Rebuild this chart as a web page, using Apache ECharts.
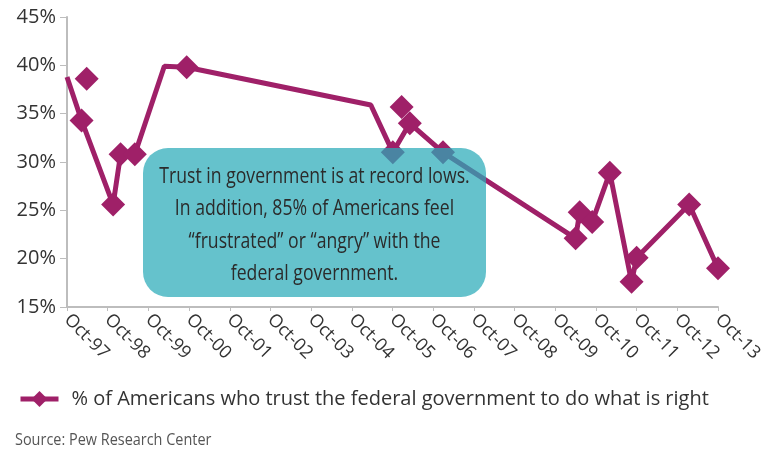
<!DOCTYPE html>
<html>
<head>
<meta charset="utf-8">
<script src="https://cdn.jsdelivr.net/npm/echarts@6/dist/echarts.min.js"></script>
<style>
  html, body { margin: 0; padding: 0; background: #fff; }
  #main { width: 777px; height: 449px; }
</style>
</head>
<body>
<div id="main"></div>
<script>
// x values are months counted from Oct-97
const monthsX = [0, 4.3, 13.6, 15.8, 20.0, 28.7, 35.3, 89.6, 96.1, 101.1, 110.9, 150.0, 151.2, 154.9, 160.1, 166.5, 168.0, 183.5, 192];
const trustPct = [38.8, 34.3, 25.6, 30.8, 30.8, 39.9, 39.8, 35.9, 31.0, 34.0, 31.0, 22.1, 24.8, 23.8, 28.9, 17.6, 20.1, 25.6, 19.0];
// points drawn without a diamond marker
const noMarker = [0, 5, 7];
// stray diamonds that are not on the line
const extraX = [5.8, 98.7];
const extraPct = [38.6, 35.7];

const yTicks = { min: 15, max: 45, step: 5 };
const legendName = "% of Americans who trust the federal government to do what is right";
const noteLines = [
  "Trust in government is at record lows.",
  "In addition, 85% of Americans feel",
  "\u201cfrustrated\u201d or \u201cangry\u201d with the",
  "federal government."
];

const plum = "#9f2068";

const lineData = monthsX.map((x, i) => {
  const item = { value: [x, trustPct[i]] };
  if (noMarker.includes(i)) item.symbol = "none";
  return item;
});
const extraData = extraX.map((x, i) => [x, extraPct[i]]);

let option = {
  animation: false,
  textStyle: { fontFamily: "Open Sans" },
  grid: { left: 67, right: 59, top: 17, bottom: 142 },
  xAxis: {
    type: "value",
    min: 0,
    max: 192,
    interval: 12,
    splitLine: { show: false },
    axisLine: { lineStyle: { color: "#bdbdbd", width: 2 } },
    axisTick: { show: true, length: 4, lineStyle: { color: "#bdbdbd", width: 1 } },
    axisLabel: {
      rotate: -45,
      margin: 10,
      color: "#333",
      fontSize: 18,
      formatter: function (v) {
        const yy = (97 + Math.round(v / 12)) % 100;
        return "Oct-" + String(yy).padStart(2, "0");
      },
    },
  },
  yAxis: {
    type: "value",
    min: yTicks.min,
    max: yTicks.max,
    interval: yTicks.step,
    splitLine: { show: false },
    axisLine: { show: true, lineStyle: { color: "#bdbdbd", width: 2 } },
    axisTick: { show: true, length: 7, lineStyle: { color: "#bdbdbd", width: 1 } },
    axisLabel: { color: "#333", fontSize: 20, margin: 11, formatter: "{value}%" },
  },
  legend: {
    data: [legendName],
    left: 13,
    top: 384,
    itemWidth: 38,
    itemHeight: 20,
    itemGap: 10,
    lineStyle: { width: 5 },
    textStyle: { color: "#333", fontSize: 20, fontFamily: "Open Sans", padding: [0, 0, 0, 8] },
  },
  series: [
    {
      name: legendName,
      type: "line",
      data: lineData,
      symbol: "diamond",
      symbolSize: 24,
      showAllSymbol: true,
      color: plum,
      lineStyle: { color: plum, width: 5 },
      itemStyle: { color: plum },
      z: 3,
    },
    {
      name: "extra",
      type: "scatter",
      data: extraData,
      symbol: "diamond",
      symbolSize: 24,
      itemStyle: { color: plum, opacity: 1 },
      z: 3,
    },
  ],
  graphic: [
    {
      type: "rect",
      z: 100,
      shape: { x: 143, y: 148, width: 343, height: 149, r: 25 },
      style: { fill: "rgba(41,170,184,0.72)" },
    },
    {
      type: "text",
      z: 101,
      x: 314.5,
      y: 225.5,
      scaleX: 0.84,
      style: {
        text: noteLines.join("\n"),
        fill: "#2b2b2b",
        fontSize: 21,
        lineHeight: 32.5,
        fontFamily: "Open Sans",
        align: "center",
        verticalAlign: "middle",
      },
    },
    {
      type: "text",
      x: 15,
      y: 440,
      scaleX: 0.85,
      style: {
        text: "Source: Pew Research Center",
        fill: "#555",
        fontSize: 17,
        fontFamily: "Open Sans",
        verticalAlign: "middle",
      },
    },
  ],
};

var myChart = echarts.init(document.getElementById("main"));
myChart.setOption(option);
</script>
</body>
</html>
